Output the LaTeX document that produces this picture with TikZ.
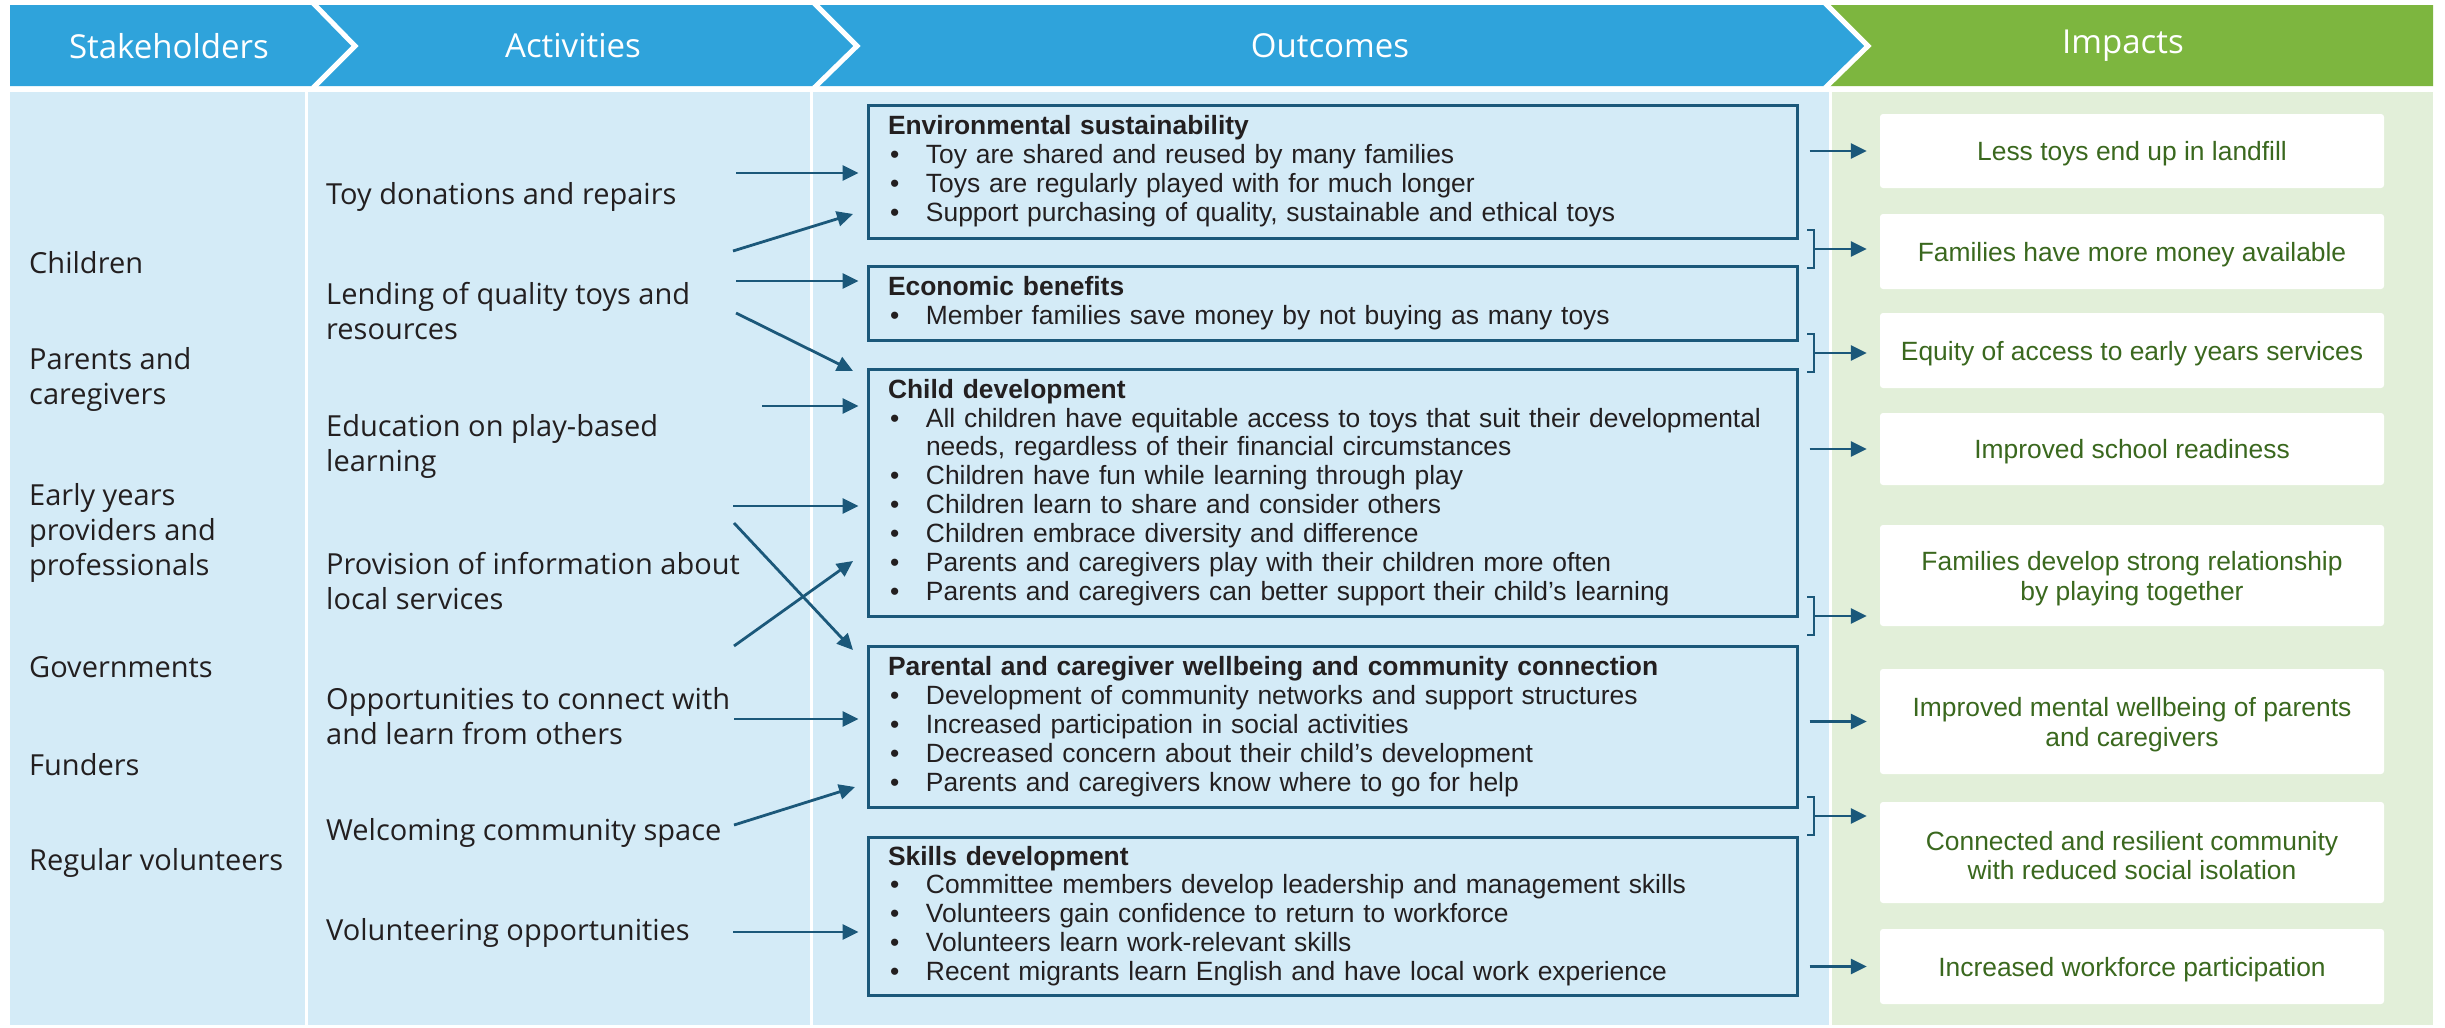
\documentclass[tikz,border=0pt]{standalone}
\usepackage{fontspec}
\setmainfont{Liberation Sans}
\newfontfamily\osans{Open Sans}
\usetikzlibrary{arrows.meta}

\definecolor{hblue}{RGB}{47,163,219}
\definecolor{hgreen}{RGB}{125,182,63}
\definecolor{lblue}{RGB}{212,235,247}
\definecolor{lgreen}{RGB}{226,239,217}
\definecolor{dblue}{RGB}{27,88,122}
\definecolor{txt}{RGB}{35,31,32}
\definecolor{igreen}{RGB}{58,104,30}

\newcommand{\bul}[1]{\par\noindent\hangindent=38pt\hangafter=1\makebox[38pt][l]{\hspace{2pt}\textbullet}#1}

\begin{document}
\begin{tikzpicture}[x=1pt, y=-1pt,
  hdr/.style={font=\osans\fontsize{33}{40}\selectfont, text=white, inner sep=0},
  stk/.style={font=\osans\fontsize{29}{35}\selectfont, text=txt, align=left, anchor=west, inner sep=0},
  obox/.style={draw=dblue, line width=3pt, text width=889pt, inner xsep=20pt, inner ysep=0pt,
    font=\fontsize{26.4}{28.9}\selectfont, text=txt, align=left},
  ibox/.style={fill=white, rounded corners=3pt, minimum width=504pt, inner sep=0pt},
  itxt/.style={align=center, font=\fontsize{26.4}{29.7}\selectfont, text=igreen, inner sep=0pt, yshift=-3pt},
  arr/.style={draw=dblue, line width=2.8pt, -{Triangle[length=16pt,width=15pt]}},
  brk/.style={draw=dblue, line width=2pt}
]
\useasboundingbox (0,0) rectangle (2445,1028);
\fill[white] (0,0) rectangle (2445,1028);

% header
\fill[hblue] (10,5) -- (1825,5) -- (1868,46) -- (1825,86) -- (10,86) -- cycle;
\fill[hgreen] (1825,5) -- (2433,5) -- (2433,86) -- (1825,86) -- (1868,46) -- cycle;
\draw[white, line width=5pt] (313,3) -- (355,46) -- (313,88);
\draw[white, line width=5pt] (814,3) -- (857,46) -- (814,88);
\draw[white, line width=5pt] (1825,3) -- (1868,46) -- (1825,88);
\node[hdr] (h1) at (169,46) {Stakeholders};
\node[hdr] (h2) at (573,46) {Activities};
\node[hdr] (h3) at (1330,46) {Outcomes};
\node[hdr] (h4) at (2123,46) {Impacts};

% body panels
\fill[lblue] (10,92) rectangle (305,1025);
\fill[lblue] (308,92) rectangle (810,1025);
\fill[lblue] (813,92) rectangle (1829,1025);
\fill[lgreen] (1832,92) rectangle (2433,1025);

% stakeholders
\node[stk] (s1) at (29,263) {Children};
\node[stk] (s2) at (29,379) {Parents and\\caregivers};
\node[stk] (s3) at (29,533) {Early years\\providers and\\professionals};
\node[stk] (s4) at (29,667) {Governments};
\node[stk] (s5) at (29,765) {Funders};
\node[stk] (s6) at (29,863) {Regular volunteers};

% activities
\node[stk] (a1) at (326,197) {Toy donations and repairs};
\node[stk] (a2) at (326,311) {Lending of quality toys and\\resources};
\node[stk] (a3) at (326,446) {Education on play-based\\learning};
\node[stk] (a4) at (326,581) {Provision of information about\\local services};
\node[stk] (a5) at (326,716) {Opportunities to connect with\\and learn from others};
\node[stk] (a6) at (326,833) {Welcoming community space};
\node[stk] (a7) at (326,933) {Volunteering opportunities};

% outcomes
\node[obox, minimum height=133pt] (env) at (1332.5,171.5) {\noindent\textbf{Environmental sustainability}%
 \bul{Toy are shared and reused by many families}%
 \bul{Toys are regularly played with for much longer}%
 \bul{Support purchasing of quality, sustainable and ethical toys}};
\node[obox, minimum height=74pt] (econ) at (1332.5,303) {\noindent\textbf{Economic benefits}%
 \bul{Member families save money by not buying as many toys}};
\node[obox, minimum height=247pt] (child) at (1332.5,492.5) {\noindent\textbf{Child development}%
 \bul{All children have equitable access to toys that suit their developmental\newline needs, regardless of their financial circumstances}%
 \bul{Children have fun while learning through play}%
 \bul{Children learn to share and consider others}%
 \bul{Children embrace diversity and difference}%
 \bul{Parents and caregivers play with their children more often}%
 \bul{Parents and caregivers can better support their child’s learning}};
\node[obox, minimum height=161pt] (parent) at (1332.5,726.5) {\noindent\textbf{Parental and caregiver wellbeing and community connection}%
 \bul{Development of community networks and support structures}%
 \bul{Increased participation in social activities}%
 \bul{Decreased concern about their child’s development}%
 \bul{Parents and caregivers know where to go for help}};
\node[obox, minimum height=158pt] (skills) at (1332.5,916) {\noindent\textbf{Skills development}%
 \bul{Committee members develop leadership and management skills}%
 \bul{Volunteers gain confidence to return to workforce}%
 \bul{Volunteers learn work-relevant skills}%
 \bul{Recent migrants learn English and have local work experience}};

% impacts
\node[ibox, minimum height=74pt] (i1) at (2132,151) {};
\node[ibox, minimum height=75pt] (i2) at (2132,251.5) {};
\node[ibox, minimum height=75pt] (i3) at (2132,350.5) {};
\node[ibox, minimum height=72pt] (i4) at (2132,449) {};
\node[ibox, minimum height=101pt] (i5) at (2132,575.5) {};
\node[ibox, minimum height=105pt] (i6) at (2132,721.5) {};
\node[ibox, minimum height=101pt] (i7) at (2132,852.5) {};
\node[ibox, minimum height=75pt] (i8) at (2132,966.5) {};
\node[itxt] (t1) at (i1.center) {Less toys end up in landfill};
\node[itxt] (t2) at (i2.center) {Families have more money available};
\node[itxt] (t3) at (i3.center) {Equity of access to early years services};
\node[itxt] (t4) at (i4.center) {Improved school readiness};
\node[itxt] (t5) at (i5.center) {Families develop strong relationship\\by playing together};
\node[itxt] (t6) at (i6.center) {Improved mental wellbeing of parents\\and caregivers};
\node[itxt] (t7) at (i7.center) {Connected and resilient community\\with reduced social isolation};
\node[itxt] (t8) at (i8.center) {Increased workforce participation};

% activity -> outcome arrows
\coordinate (p1) at (736,173);
\coordinate (p2) at (733,251); \coordinate (q2) at (853,214);
\coordinate (p3) at (736,281);
\coordinate (p4) at (736,313); \coordinate (q4) at (853,371);
\coordinate (p5) at (762,406);
\coordinate (p6) at (733,506);
\coordinate (p7) at (734,523); \coordinate (q7) at (853,650);
\coordinate (p8) at (734,646); \coordinate (q8) at (853,561);
\coordinate (p9) at (734,719);
\coordinate (p10) at (734,825); \coordinate (q10) at (855,787);
\coordinate (p11) at (733,932);

\draw[arr, shorten >=8pt] (p1) -- (p1 -| env.west);
\draw[arr] (p2) -- (q2);
\draw[arr, shorten >=8pt] (p3) -- (p3 -| econ.west);
\draw[arr] (p4) -- (q4);
\draw[arr, shorten >=8pt] (p5) -- (p5 -| child.west);
\draw[arr, shorten >=8pt] (p6) -- (p6 -| child.west);
\draw[arr] (p7) -- (q7);
\draw[arr] (p8) -- (q8);
\draw[arr, shorten >=8pt] (p9) -- (p9 -| parent.west);
\draw[arr] (p10) -- (q10);
\draw[arr, shorten >=8pt] (p11) -- (p11 -| skills.west);

% outcome -> impact arrows
\draw[arr, shorten <=11pt, shorten >=13pt] (i1.west -| env.east) -- (i1.west);
\draw[arr, shorten <=11pt, shorten >=13pt] (i4.west -| child.east) -- (i4.west);
\draw[arr, shorten <=11pt, shorten >=13pt] (i6.west -| parent.east) -- (i6.west);
\draw[arr, shorten <=11pt, shorten >=13pt] (i8.west -| skills.east) -- (i8.west);

% brackets
\coordinate (k1) at (1814,249);
\coordinate (k2) at (1814,353);
\coordinate (k3) at (1814,616);
\coordinate (k4) at (1814,816);
\foreach \k in {k1,k2,k3,k4}{
  \draw[brk] (\k) ++(-7,-19) -- ++(7,0) -- ++(0,38) -- ++(-7,0);
}
\draw[arr, shorten >=13pt] (k1) -- (k1 -| i2.west);
\draw[arr, shorten >=13pt] (k2) -- (k2 -| i3.west);
\draw[arr, shorten >=13pt] (k3) -- (k3 -| i5.west);
\draw[arr, shorten >=13pt] (k4) -- (k4 -| i7.west);
\end{tikzpicture}
\end{document}
